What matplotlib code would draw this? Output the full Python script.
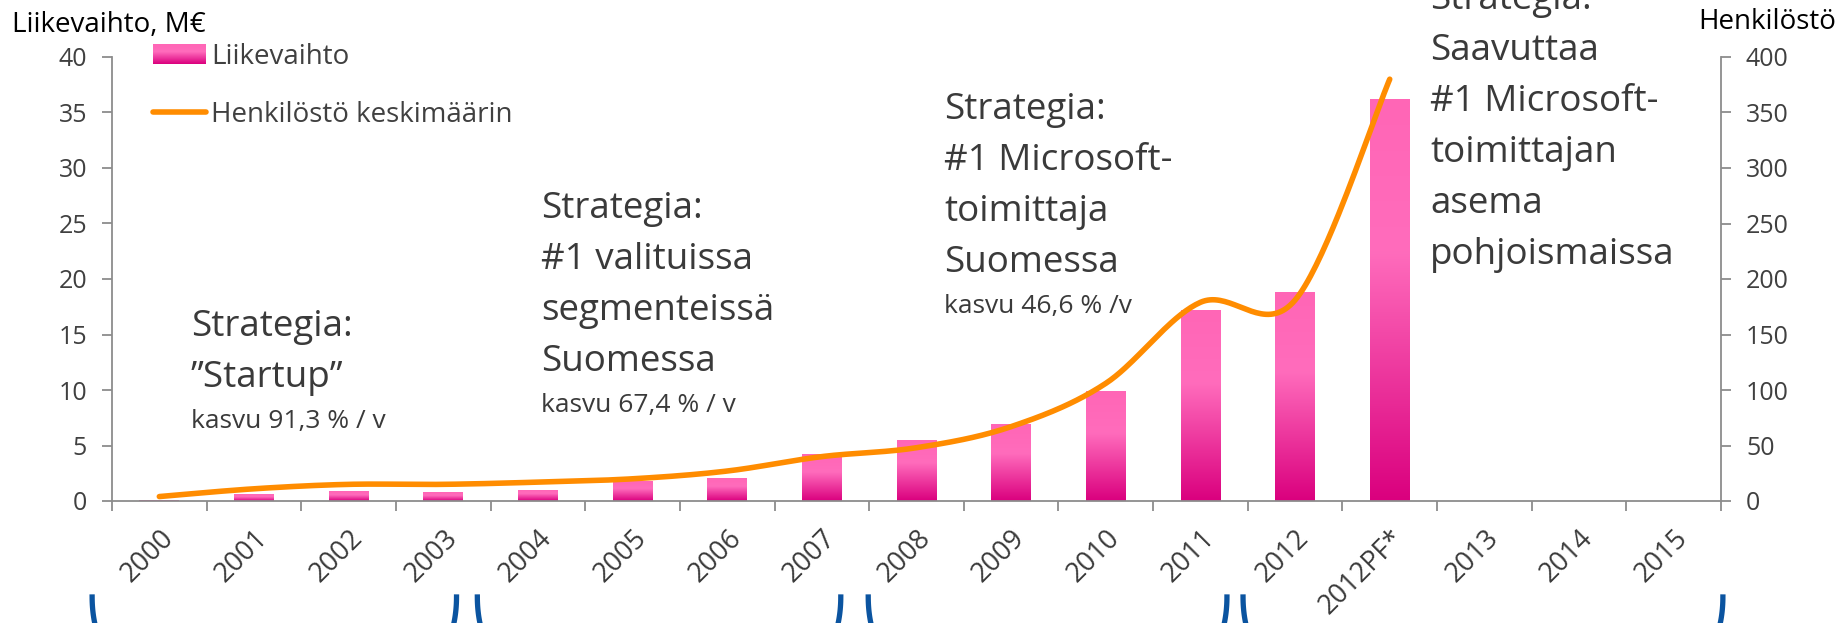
import numpy as np
import matplotlib
matplotlib.use('Agg')
import matplotlib.pyplot as plt
from matplotlib.colors import LinearSegmentedColormap
from matplotlib.legend_handler import HandlerBase
from matplotlib.image import BboxImage
from matplotlib.transforms import Bbox, TransformedBbox, ScaledTranslation, blended_transform_factory
from matplotlib.lines import Line2D
from matplotlib.patches import Rectangle

plt.rcParams['font.family'] = ['Open Sans', 'DejaVu Sans']

# data
vuodet = ['2000', '2001', '2002', '2003', '2004', '2005', '2006', '2007', '2008',
          '2009', '2010', '2011', '2012', '2012PF*', '2013', '2014', '2015']
liikevaihto = [0.1, 0.6, 0.9, 0.8, 1.0, 1.8, 2.1, 4.2, 5.5, 6.9, 9.9, 17.2, 18.8, 36.2]
henkilosto = [4, 11, 15, 15, 17, 20, 27, 40, 48, 67, 106, 179, 181, 380]
vasen_ticks = [0, 5, 10, 15, 20, 25, 30, 35, 40]
oikea_ticks = [0, 50, 100, 150, 200, 250, 300, 350, 400]

# strategiatekstit: (x px, ensimmaisen rivin baseline px, isot rivit, pieni rivi)
strategiat = [
    (191, 336, ['Strategia:', '\u201dStartup\u201d'], 'kasvu 91,3 % / v'),
    (541, 218, ['Strategia:', '#1 valituissa', 'segmenteissä', 'Suomessa'], 'kasvu 67,4 % / v'),
    (944, 119, ['Strategia:', '#1 Microsoft-', 'toimittaja', 'Suomessa'], 'kasvu 46,6 % /v'),
    (1430, 9, ['Strategia:', 'Saavuttaa', '#1 Microsoft-', 'toimittajan', 'asema', 'pohjoismaissa'], None),
]
# aaltosulkeiden paat (x datayksikoissa)
sulkeet = [(-0.71, 3.14), (3.36, 7.20), (7.49, 11.28), (11.45, 16.52)]

W, H = 1848, 623
fig = plt.figure(figsize=(W / 100, H / 100), dpi=100)
ax = fig.add_axes([112 / W, 122 / H, (1721 - 112) / W, 444 / H])
ax2 = ax.twinx()

bar_cmap = LinearSegmentedColormap.from_list(
    'pinkki', [(0, '#DA007E'), (0.62, '#FF6CBC'), (1, '#FF66B6')])

x = np.arange(len(liikevaihto))
bw = 0.42
bars = ax.bar(x, liikevaihto, width=bw, color='none', edgecolor='none')
grad = np.linspace(0, 1, 256).reshape(-1, 1)
for b in bars:
    im = ax.imshow(grad, cmap=bar_cmap, origin='lower', aspect='auto',
                   extent=[b.get_x(), b.get_x() + b.get_width(), 0, b.get_height()],
                   interpolation='bilinear', zorder=2)
    im.set_clip_path(b)


def excel_smooth(xs, ys, n=40):
    xs = np.asarray(xs, float)
    ys = np.asarray(ys, float)
    px, py = [], []
    m = len(xs)
    for i in range(m - 1):
        i0, i3 = max(i - 1, 0), min(i + 2, m - 1)
        p1 = np.array([xs[i], ys[i]])
        p2 = np.array([xs[i + 1], ys[i + 1]])
        c1 = p1 + (p2 - np.array([xs[i0], ys[i0]])) / 6
        c2 = p2 - (np.array([xs[i3], ys[i3]]) - p1) / 6
        t = np.linspace(0, 1, n)[:, None]
        pts = (1 - t) ** 3 * p1 + 3 * (1 - t) ** 2 * t * c1 + 3 * (1 - t) * t ** 2 * c2 + t ** 3 * p2
        px.extend(pts[:, 0])
        py.extend(pts[:, 1])
    return px, py


sx, sy = excel_smooth(np.arange(len(henkilosto)), henkilosto)
ax2.plot(sx, sy, color='#FF8C00', lw=4, solid_capstyle='round', zorder=3)

grey = '#8C8C8C'
ax.set_xlim(-0.5, len(vuodet) - 0.5)
ax.set_ylim(0, 40)
ax2.set_ylim(0, 400)
ax.set_yticks(vasen_ticks)
ax2.set_yticks(oikea_ticks)
ax.set_xticks(np.arange(-0.5, len(vuodet), 1))
ax.set_xticklabels([])
ax.set_xticks(np.arange(len(vuodet)), minor=True)
ax.set_xticklabels(vuodet, minor=True, rotation=45, ha='right', va='top',
                   rotation_mode='anchor')
off = ScaledTranslation(3 / 100, 0, fig.dpi_scale_trans)
for lab in ax.get_xticklabels(minor=True):
    lab.set_transform(lab.get_transform() + off)

ax.tick_params(axis='x', which='major', direction='out', length=7, width=1.3, color=grey)
ax.tick_params(axis='x', which='minor', length=0, pad=17, labelsize=19.5, labelcolor='#3A3A3A')
ax.tick_params(axis='y', direction='out', length=7, width=1.3, color=grey,
               labelsize=18, labelcolor='#404040', pad=11)
ax2.tick_params(axis='y', direction='out', length=7, width=1.3, color=grey,
                labelsize=18, labelcolor='#404040', pad=11)

for a in (ax, ax2):
    a.spines['top'].set_visible(False)
    for s in a.spines.values():
        s.set_color(grey)
        s.set_linewidth(1.3)
ax.spines['right'].set_visible(False)
ax2.spines['left'].set_visible(False)
ax2.spines['bottom'].set_visible(False)

fig.text(12 / W, 1 - 32 / H, 'Liikevaihto, M\u20ac', fontsize=20, va='baseline', color='black')
fig.text(1836 / W, 1 - 29 / H, 'Henkilöstö', fontsize=20, va='baseline', ha='right', color='black')


class GradientHandler(HandlerBase):
    def create_artists(self, legend, orig_handle, xdescent, ydescent, width, height, fontsize, trans):
        bb = TransformedBbox(Bbox.from_bounds(-xdescent, -ydescent, width, height), trans)
        img = BboxImage(bb, cmap=bar_cmap, interpolation='bilinear', origin='lower')
        img.set_data(np.linspace(0, 1, 64).reshape(-1, 1))
        return [img]


h_bar = Rectangle((0, 0), 1, 1)
h_line = Line2D([], [], color='#FF8C00', lw=4, solid_capstyle='round')
leg = ax2.legend([h_bar, h_line], ['Liikevaihto', 'Henkilöstö keskimäärin'],
                 handler_map={Rectangle: GradientHandler()},
                 loc='upper left', bbox_to_anchor=(153 / W, 1 - 43 / H),
                 bbox_transform=fig.transFigure, frameon=False, fontsize=20,
                 borderpad=0, borderaxespad=0, handlelength=1.9, handletextpad=0.2,
                 labelspacing=1.07)
for t in leg.get_texts():
    t.set_color('#404040')

step = 51
for sx0, by, rivit, pieni in strategiat:
    for i, r in enumerate(rivit):
        fig.text(sx0 / W, 1 - (by + i * step) / H, r, fontsize=26.5,
                 va='baseline', color='#3A3A3A')
    if pieni:
        yy = by + (len(rivit) - 1) * step + 41
        fig.text(sx0 / W, 1 - yy / H, pieni, fontsize=19, va='baseline', color='#3A3A3A')

# aaltosulkeet akselin alla
tr = blended_transform_factory(ax.transData, fig.transFigure)
th = np.linspace(0, np.pi / 2, 40)
ytop, bh, aw = 26 / H, 0.1, 0.3
for x0, x1 in sulkeet:
    ax.plot(x0 + aw * (1 - np.cos(th)), ytop - bh * np.sin(th), color='#0B54A0', lw=3.8,
            transform=tr, clip_on=False)
    ax.plot(x1 - aw * (1 - np.cos(th)), ytop - bh * np.sin(th), color='#0B54A0', lw=3.8,
            transform=tr, clip_on=False)

fig.savefig('out.png', dpi=100)
